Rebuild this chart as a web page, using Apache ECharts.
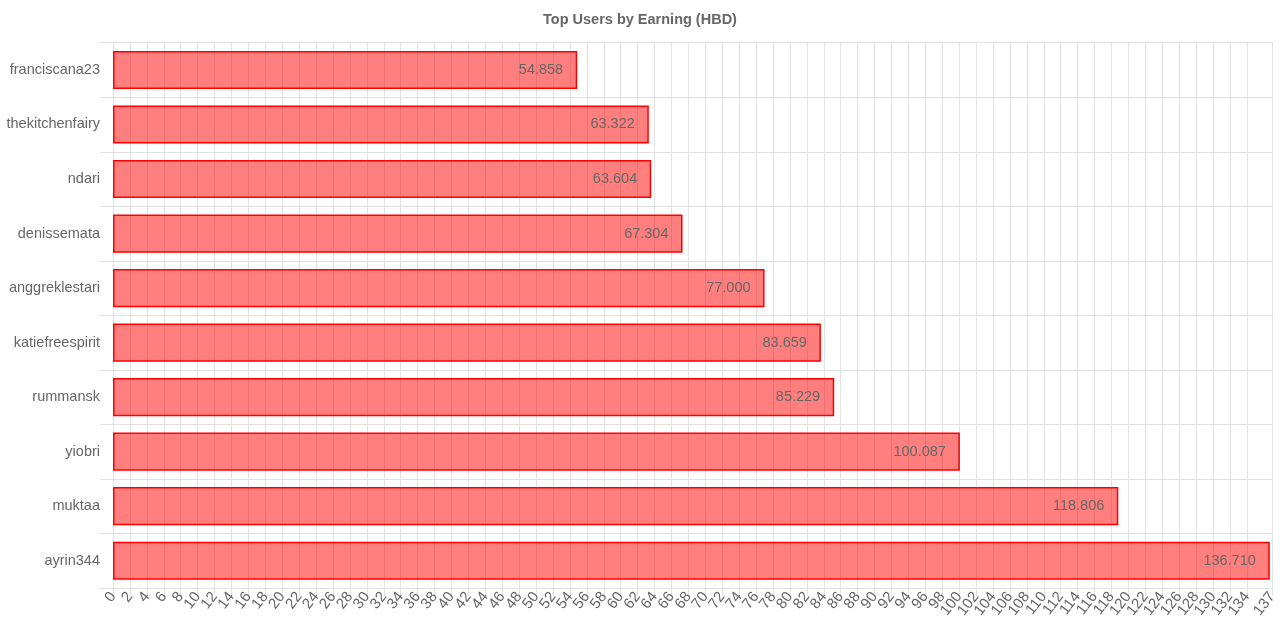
<!DOCTYPE html>
<html>
<head>
<meta charset="utf-8">
<script src="https://cdn.jsdelivr.net/npm/echarts@6/dist/echarts.min.js"></script>
<style>html,body{margin:0;padding:0;background:#fff}#c{width:1280px;height:640px}</style>
</head>
<body>
<div id="c"></div>
<script>
const users = ['franciscana23','thekitchenfairy','ndari','denissemata','anggreklestari','katiefreespirit','rummansk','yiobri','muktaa','ayrin344'];
const earnings = [54.858, 63.322, 63.604, 67.304, 77.000, 83.659, 85.229, 100.087, 118.806, 136.710];
const xMax = 137;
const xTicks = [];
for (let v = 0; v <= 134; v += 2) xTicks.push(v);
xTicks.push(137);

const FONT = 'Liberation Sans, Arial, sans-serif';
const chart = echarts.init(document.getElementById('c'), null, {renderer: 'canvas'});
chart.setOption({
  animation: false,
  title: {
    text: 'Top Users by Earning (HBD)',
    left: 'center',
    top: 7,
    textStyle: {fontFamily: FONT, fontSize: 14.5, fontWeight: 'bold', color: '#666'}
  },
  grid: {left: 113, right: 7.5, top: 42.7, bottom: 52, containLabel: false},
  xAxis: {
    type: 'value',
    min: 0,
    max: xMax,
    interval: 2,
    axisLine: {show: true, lineStyle: {color: '#e2e2e2'}},
    axisTick: {show: true, length: 8, customValues: xTicks, lineStyle: {color: '#e2e2e2'}},
    splitLine: {show: true, lineStyle: {color: '#e2e2e2'}},
    axisLabel: {
      customValues: xTicks,
      rotate: 52,
      margin: 6,
      color: '#666',
      fontSize: 15,
      fontFamily: FONT,
      hideOverlap: false
    }
  },
  yAxis: {
    type: 'category',
    data: users,
    inverse: true,
    axisLine: {show: true, lineStyle: {color: '#e2e2e2'}},
    axisTick: {show: true, length: 13, lineStyle: {color: '#e2e2e2'}},
    splitLine: {show: true, lineStyle: {color: '#e2e2e2'}},
    axisLabel: {color: '#666', fontSize: 14.5, margin: 13, fontFamily: FONT}
  },
  series: [{
    type: 'bar',
    data: earnings,
    barCategoryGap: '30%',
    itemStyle: {color: 'rgba(255,0,0,0.5)', borderColor: '#ff0000', borderWidth: 1.5},
    label: {
      show: true,
      position: 'insideRight',
      distance: 14,
      color: '#666',
      fontSize: 14.5,
      fontFamily: FONT,
      formatter: p => p.value.toFixed(3)
    }
  }]
});
</script>
</body>
</html>
